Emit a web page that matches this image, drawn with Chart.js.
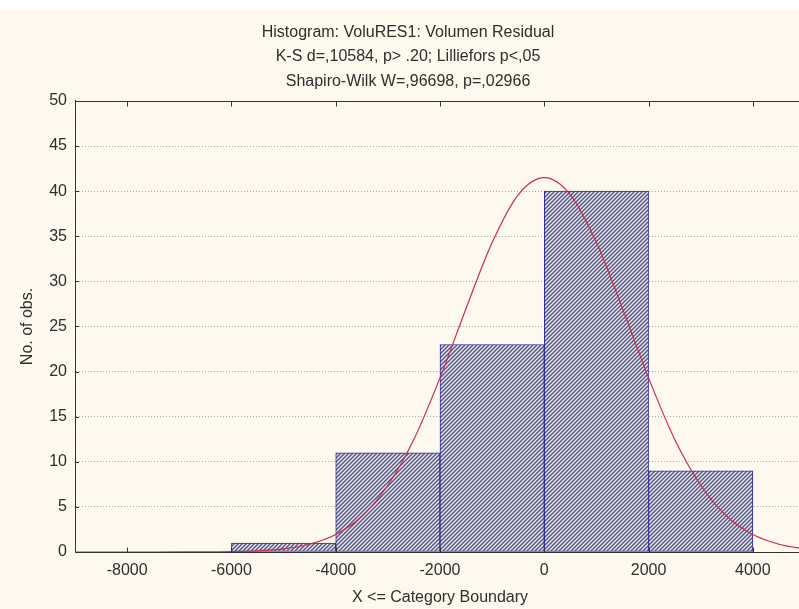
<!DOCTYPE html>
<html>
<head>
<meta charset="utf-8">
<script src="https://cdn.jsdelivr.net/npm/chart.js@4/dist/chart.umd.min.js"></script>
<style>
  html, body { margin: 0; padding: 0; background: #ffffff; overflow: hidden; }
  #frame { position: absolute; left: 0; top: 10px; width: 815px; height: 599px; background: #fdf9ee; }
  canvas { display: block; }
</style>
</head>
<body>
<div id="frame"><canvas id="hist" width="815" height="599"></canvas></div>
<script>
// Chart text
const titleLines = [
  'Histogram: VoluRES1: Volumen Residual',
  'K-S d=,10584, p> .20; Lilliefors p<,05',
  'Shapiro-Wilk W=,96698, p=,02966'
];
const xAxisTitle = 'X <= Category Boundary';
const yAxisTitle = 'No. of obs.';

// Histogram bins: upper boundary of each category and its count
const binUpper = [-4000, -2000, 0, 2000, 4000];
const binCounts = [1, 11, 23, 40, 9];
const binWidth = 2000;

// Axis ticks
const xTickValues = [-8000, -6000, -4000, -2000, 0, 2000, 4000];
const xRange = [-9000, 5000];
const yRange = [0, 50];
const yStep = 5;

// Expected normal curve (counts per category)
const curveX = [-9000, -8500, -8000, -7500, -7000, -6500, -6000, -5500, -5000, -4500,
                -4000, -3500, -3000, -2500, -2000, -1500, -1000, -500, 0,
                500, 1000, 1500, 2000, 2500, 3000, 3500, 4000, 4500, 5000];
const curveY = [0, 0, 0, 0.001, 0.003, 0.013, 0.04, 0.13, 0.34, 0.86,
                1.93, 3.96, 7.4, 12.5, 19.3, 27.0, 34.3, 39.6, 41.5,
                39.6, 34.3, 27.0, 19.3, 12.5, 7.4, 3.96, 1.93, 0.86, 0.34];

const FONT = '"Liberation Sans", Arial, sans-serif';
const TEXT = '#2e2e2e';
const AXIS = '#333333';

// Diagonal hatch fill for the bars
function makeHatch() {
  const s = 4;
  const c = document.createElement('canvas');
  c.width = s; c.height = s;
  const g = c.getContext('2d');
  g.fillStyle = '#e6e6ef';
  g.fillRect(0, 0, s, s);
  g.strokeStyle = '#54547f';
  g.lineWidth = 1.4;
  g.beginPath();
  g.moveTo(-1, s + 1); g.lineTo(s + 1, -1);
  g.moveTo(-1, 1); g.lineTo(1, -1);
  g.moveTo(s - 1, s + 1); g.lineTo(s + 1, s - 1);
  g.stroke();
  return g.createPattern(c, 'repeat');
}

// Frame: top border plus inward tick marks on top, bottom and left
const framePlugin = {
  id: 'frame',
  afterDatasetsDraw(chart) {
    const { ctx, chartArea: a, scales: { x, y } } = chart;
    ctx.save();
    ctx.strokeStyle = AXIS;
    ctx.lineWidth = 1;
    ctx.beginPath();
    const top = Math.round(a.top) + 0.5;
    const bot = Math.round(a.bottom) + 0.5;
    ctx.moveTo(a.left, top); ctx.lineTo(a.right, top);
    ctx.moveTo(a.left, bot); ctx.lineTo(a.right, bot);
    xTickValues.forEach(v => {
      const px = Math.round(x.getPixelForValue(v)) + 0.5;
      ctx.moveTo(px, top); ctx.lineTo(px, top + 5);
      ctx.moveTo(px, bot); ctx.lineTo(px, bot - 5);
    });
    for (let v = yRange[0] + yStep; v < yRange[1]; v += yStep) {
      const py = Math.round(y.getPixelForValue(v)) + 0.5;
      ctx.moveTo(a.left, py); ctx.lineTo(a.left + 4, py);
    }
    ctx.stroke();
    ctx.restore();
  }
};

const barData = binUpper.map((u, i) => ({ x: u - binWidth / 2, y: binCounts[i] }));
const curveData = curveX.map((v, i) => ({ x: v, y: curveY[i] }));

new Chart(document.getElementById('hist'), {
  type: 'bar',
  data: {
    datasets: [
      {
        type: 'line',
        data: curveData,
        borderColor: '#cc2c4e',
        borderWidth: 1.2,
        pointRadius: 0,
        fill: false,
        cubicInterpolationMode: 'monotone',
        order: 0
      },
      {
        type: 'bar',
        data: barData,
        backgroundColor: makeHatch(),
        borderColor: '#2a2aa0',
        borderWidth: 1,
        borderSkipped: false,
        barPercentage: 1,
        categoryPercentage: 1,
        order: 1
      }
    ]
  },
  options: {
    responsive: false,
    animation: false,
    devicePixelRatio: 1,
    layout: { padding: { left: 11, right: 10, top: 0, bottom: 0 } },
    plugins: {
      legend: { display: false },
      tooltip: { enabled: false },
      title: {
        display: true,
        text: titleLines,
        color: TEXT,
        font: { family: FONT, size: 16, weight: 'normal', lineHeight: 1.53 },
        padding: { top: 10, bottom: 7.5 }
      }
    },
    scales: {
      x: {
        type: 'linear',
        min: xRange[0],
        max: xRange[1],
        offset: false,
        afterBuildTicks: s => { s.ticks = xTickValues.map(v => ({ value: v })); },
        afterFit: s => { s.height = 57; },
        grid: { display: false, drawTicks: false },
        border: { display: true, color: AXIS, width: 1 },
        ticks: {
          color: TEXT, font: { family: FONT, size: 16 }, padding: 9,
          maxRotation: 0, autoSkip: false,
          callback: v => String(v)
        },
        title: {
          display: true, text: xAxisTitle, color: TEXT,
          font: { family: FONT, size: 16 }, padding: { top: 0, bottom: 1.5 }
        }
      },
      y: {
        min: yRange[0],
        max: yRange[1],
        afterFit: s => { s.width = 64; },
        ticks: { stepSize: yStep, color: TEXT, font: { family: FONT, size: 16 }, padding: 8 },
        grid: {
          drawTicks: false,
          lineWidth: 1,
          color: ctx => (ctx.tick && (ctx.tick.value === yRange[0] || ctx.tick.value === yRange[1]))
            ? 'rgba(0,0,0,0)' : '#a9a9a9'
        },
        border: { display: true, color: AXIS, width: 1, dash: [1, 2] },
        title: {
          display: true, text: yAxisTitle, color: TEXT,
          font: { family: FONT, size: 16 }, padding: { top: 6.5, bottom: 0 }
        }
      }
    }
  },
  plugins: [framePlugin]
});
</script>
</body>
</html>
